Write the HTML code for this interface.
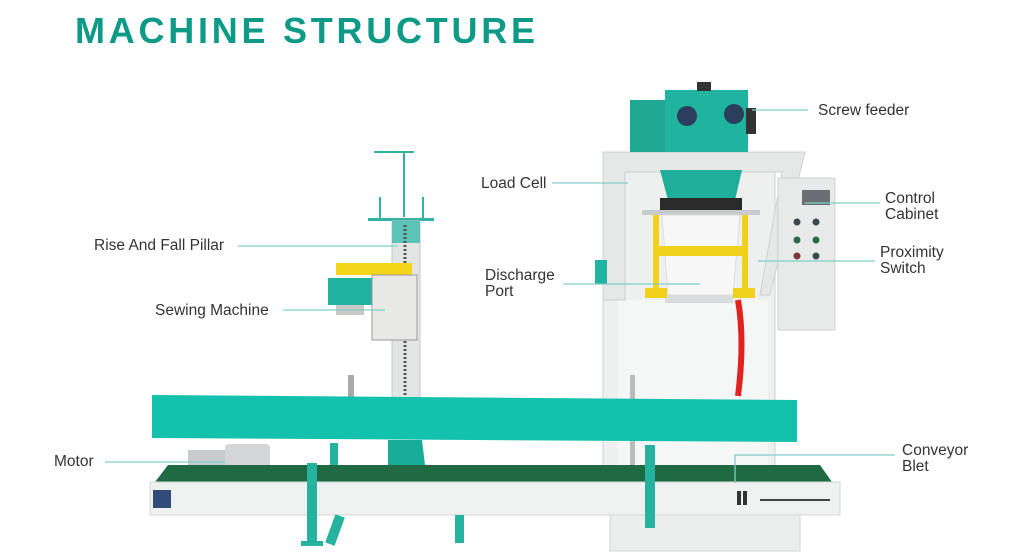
<!DOCTYPE html>
<html><head><meta charset="utf-8"><style>
html,body{margin:0;padding:0;background:#fff;width:1024px;height:559px;overflow:hidden}
svg{display:block}
text{font-family:"Liberation Sans",sans-serif}
.l{font-size:15.5px;fill:#333}
.ln{stroke:#7fd0c6;stroke-width:1.3;fill:none}
</style></head><body>
<svg width="1024" height="559" viewBox="0 0 1024 559">
<text x="75" y="43" font-size="36" font-weight="bold" fill="#0f9a88" textLength="460" lengthAdjust="spacing">MACHINE STRUCTURE</text>

<!-- cabinet base -->
<rect x="610" y="513" width="190" height="38" fill="#eceeee" stroke="#d4d6d6"/>
<!-- main cabinet -->
<rect x="603" y="152" width="172" height="318" fill="#eef0ef" stroke="#d0d2d2"/>
<rect x="618" y="300" width="150" height="165" fill="#f5f6f6"/>
<polygon points="603,152 805,152 770,295 760,295 782,172 625,172 625,300 603,300" fill="#e6e8e7" stroke="#cfd1d1"/>
<!-- control cabinet -->
<rect x="778" y="178" width="57" height="152" fill="#e8eaea" stroke="#d0d2d2"/>
<rect x="802" y="190" width="28" height="15" fill="#6a6e72"/>
<g fill="#3c4a4c"><circle cx="797" cy="222" r="3.5"/><circle cx="816" cy="222" r="3.5"/><circle cx="797" cy="240" r="3.5" fill="#2a6a4a"/><circle cx="816" cy="240" r="3.5" fill="#2a6a4a"/><circle cx="797" cy="256" r="3.5" fill="#7a3a3a"/><circle cx="816" cy="256" r="3.5"/></g>
<!-- screw feeder -->
<rect x="630" y="100" width="38" height="52" fill="#1fa893"/>
<rect x="665" y="90" width="83" height="62" fill="#20b3a0"/>
<circle cx="687" cy="116" r="10" fill="#2c3f5a"/><circle cx="734" cy="114" r="10" fill="#2c3f5a"/>
<rect x="697" y="82" width="14" height="9" fill="#333"/>
<rect x="746" y="108" width="10" height="26" fill="#333"/>
<!-- hopper -->
<polygon points="660,170 742,170 735,200 668,200" fill="#1fae9a"/>
<rect x="660" y="198" width="82" height="12" fill="#2a2a2a"/>
<rect x="642" y="210" width="118" height="5" fill="#c8cacb"/>
<polygon points="662,215 740,215 733,295 668,295" fill="#f7f7f7" stroke="#ddd"/>
<rect x="665" y="295" width="68" height="8" fill="#d8dcdc"/>
<!-- yellow frame -->
<g fill="#f0d21c"><rect x="653" y="215" width="6" height="80"/><rect x="742" y="215" width="6" height="80"/><rect x="655" y="246" width="92" height="10"/><rect x="645" y="288" width="22" height="10"/><rect x="733" y="288" width="22" height="10"/></g>
<path d="M738 300 Q745 340 738 396" stroke="#e0231e" stroke-width="6" fill="none"/>
<rect x="595" y="260" width="12" height="24" fill="#20b3a0"/>
<rect x="630" y="375" width="5" height="90" fill="#bbb"/>

<!-- pillar -->
<line x1="404" y1="152" x2="404" y2="217" stroke="#35b3a2" stroke-width="2"/>
<line x1="374" y1="152" x2="414" y2="152" stroke="#35b3a2" stroke-width="2"/>
<rect x="379" y="197" width="2" height="22" fill="#35b3a2"/><rect x="422" y="197" width="2" height="22" fill="#35b3a2"/>
<rect x="368" y="218" width="66" height="3" fill="#35b3a2"/>
<rect x="392" y="221" width="28" height="178" fill="#e3e5e5" stroke="#c4c6c6"/>
<rect x="392" y="221" width="28" height="22" fill="#5cc4b6"/>
<line x1="405" y1="225" x2="405" y2="395" stroke="#555" stroke-width="3" stroke-dasharray="2,2"/>
<!-- sewing machine -->
<rect x="336" y="263" width="76" height="12" fill="#f3d51a"/>
<rect x="328" y="278" width="44" height="27" fill="#1fb3a0"/>
<rect x="336" y="305" width="28" height="10" fill="#c9c9c6"/>
<rect x="372" y="275" width="45" height="65" fill="#e8e8e6" stroke="#999"/>
<rect x="348" y="375" width="6" height="22" fill="#aaa"/>

<!-- conveyor top bar -->
<polygon points="152,395 797,400 797,442 152,438" fill="#14c1ad"/>
<polygon points="388,440 422,440 425,465 388,465" fill="#18ad98"/>
<!-- motor -->
<rect x="188" y="450" width="45" height="16" fill="#c8cbcc"/>
<rect x="225" y="444" width="45" height="24" fill="#d3d5d6" rx="4"/>
<!-- belt -->
<polygon points="168,465 820,465 832,482 155,482" fill="#1f6a43"/>
<rect x="150" y="482" width="690" height="33" fill="#eff0f0" stroke="#d6d8d8"/>
<rect x="153" y="490" width="18" height="18" fill="#324b78"/>
<rect x="737" y="491" width="4" height="14" fill="#333"/><rect x="743" y="491" width="4" height="14" fill="#333"/>
<line x1="760" y1="500" x2="830" y2="500" stroke="#444" stroke-width="2"/>
<!-- legs -->
<g fill="#25b3a0"><rect x="307" y="463" width="10" height="82"/><rect x="301" y="541" width="22" height="5"/><rect x="330" y="443" width="8" height="22"/><rect x="645" y="445" width="10" height="83"/><rect x="330" y="515" width="10" height="30" transform="rotate(20 335 530)"/><rect x="455" y="515" width="9" height="28"/></g>

<!-- leader lines -->
<path class="ln" d="M752 110H808 M552 183H628 M805 203H880 M238 246H398 M758 261H875 M563 284H700 M283 310H385 M105 462H225 M735 483V455H895"/>
<!-- labels -->
<text class="l" x="818" y="115">Screw feeder</text>
<text class="l" x="481" y="188">Load Cell</text>
<text class="l" x="885" y="203">Control</text><text class="l" x="885" y="219">Cabinet</text>
<text class="l" x="94" y="250">Rise And Fall Pillar</text>
<text class="l" x="880" y="257">Proximity</text><text class="l" x="880" y="273">Switch</text>
<text class="l" x="485" y="280">Discharge</text><text class="l" x="485" y="296">Port</text>
<text class="l" x="155" y="315">Sewing Machine</text>
<text class="l" x="54" y="466">Motor</text>
<text class="l" x="902" y="455">Conveyor</text><text class="l" x="902" y="471">Blet</text>
</svg>
</body></html>
